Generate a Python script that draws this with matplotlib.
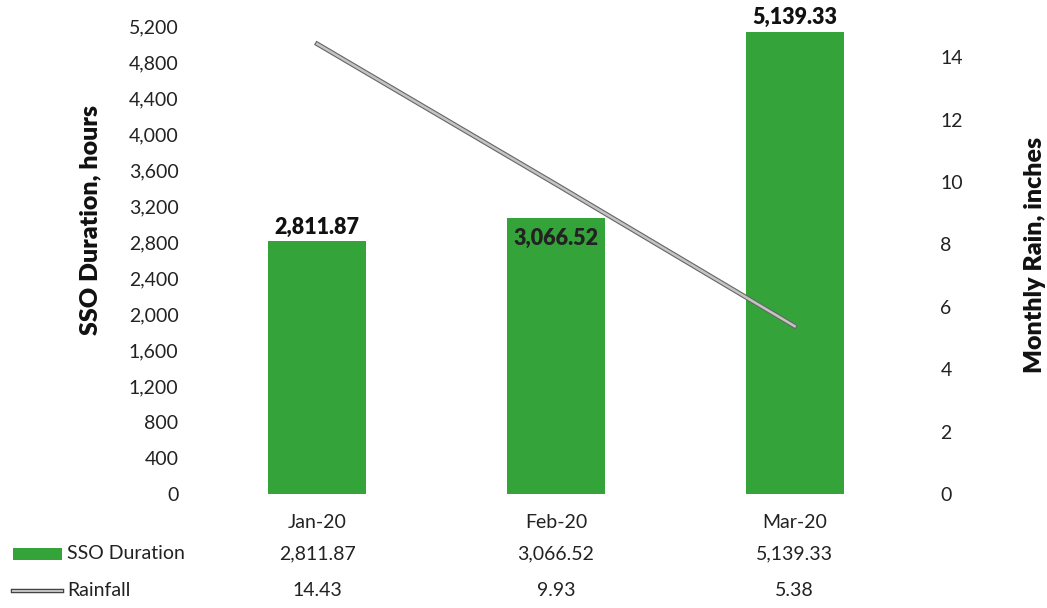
import matplotlib.pyplot as plt
import matplotlib.patheffects as pe
from matplotlib.ticker import FuncFormatter
from matplotlib.transforms import blended_transform_factory
from matplotlib.patches import Rectangle
from matplotlib.lines import Line2D

months = ['Jan-20', 'Feb-20', 'Mar-20']
sso_hours = [2811.87, 3066.52, 5139.33]
rain_in = [14.43, 9.93, 5.38]

plt.rcParams['font.family'] = ['Lato', 'DejaVu Sans']

green = '#34a43a'
txt = '#222222'
fig = plt.figure(figsize=(10.47, 6.08), dpi=100)
ax = fig.add_axes([0.189, 0.1875, 0.684, 0.7695])
x = list(range(len(months)))

ax.bar(x, sso_hours, width=0.41, color=green, zorder=2)
ax.set_xlim(-0.5, 2.5)
ax.set_ylim(0, 5200)
ax.set_yticks(range(0, 5201, 400))
ax.yaxis.set_major_formatter(FuncFormatter(lambda v, p: f'{int(v):,}'))
ax.set_xticks([])
ax.tick_params(axis='y', length=0, labelsize=14, pad=14, colors=txt)
for s in ax.spines.values():
    s.set_visible(False)

# data labels
for i, v in enumerate(sso_hours):
    if i == 1:
        ax.text(i, v - 110, f'{v:,.2f}', ha='center', va='top', fontsize=15.5,
                fontweight='heavy', color=txt, zorder=4)
    else:
        ax.text(i, v + 40, f'{v:,.2f}', ha='center', va='bottom', fontsize=15.5,
                fontweight='heavy', color='#111111', zorder=4)

ax2 = ax.twinx()
ax2.set_ylim(0, 15)
ax2.set_yticks(range(0, 15, 2))
ax2.tick_params(axis='y', length=0, labelsize=14, pad=19, colors=txt)
for s in ax2.spines.values():
    s.set_visible(False)
ax2.plot(x, rain_in, color='#c4c4c4', linewidth=1.8, zorder=3,
         path_effects=[pe.Stroke(linewidth=3.4, foreground='#666666'), pe.Normal()])

fig.text(0.086, 0.638, 'SSO Duration, hours', rotation=90, ha='center', va='center',
         fontsize=18, fontweight='heavy', color='#111111')
fig.text(0.989, 0.58, 'Monthly Rain, inches', rotation=90, ha='center', va='center',
         fontsize=18, fontweight='heavy', color='#111111')

# data table below the chart
tr = blended_transform_factory(ax.transData, fig.transFigure)
for i, m in enumerate(months):
    ax.text(i, 0.141, m, transform=tr, ha='center', va='center', fontsize=14, color=txt)
    ax.text(i, 0.089, f'{sso_hours[i]:,.2f}', transform=tr, ha='center', va='center',
            fontsize=14, color=txt)
    ax.text(i, 0.028, f'{rain_in[i]:.2f}', transform=tr, ha='center', va='center',
            fontsize=14, color=txt)

fig.patches.append(Rectangle((0.012, 0.079), 0.047, 0.02, transform=fig.transFigure,
                             facecolor=green, edgecolor='none'))
fig.text(0.064, 0.089, 'SSO Duration', ha='left', va='center', fontsize=14, color=txt)
fig.lines.append(Line2D([0.012, 0.059], [0.028, 0.028], transform=fig.transFigure,
                        color='#c4c4c4', linewidth=1.4,
                        path_effects=[pe.Stroke(linewidth=3.2, foreground='#444444'), pe.Normal()]))
fig.text(0.064, 0.028, 'Rainfall', ha='left', va='center', fontsize=14, color=txt)

fig.savefig('out.png', dpi=100, facecolor='white')
